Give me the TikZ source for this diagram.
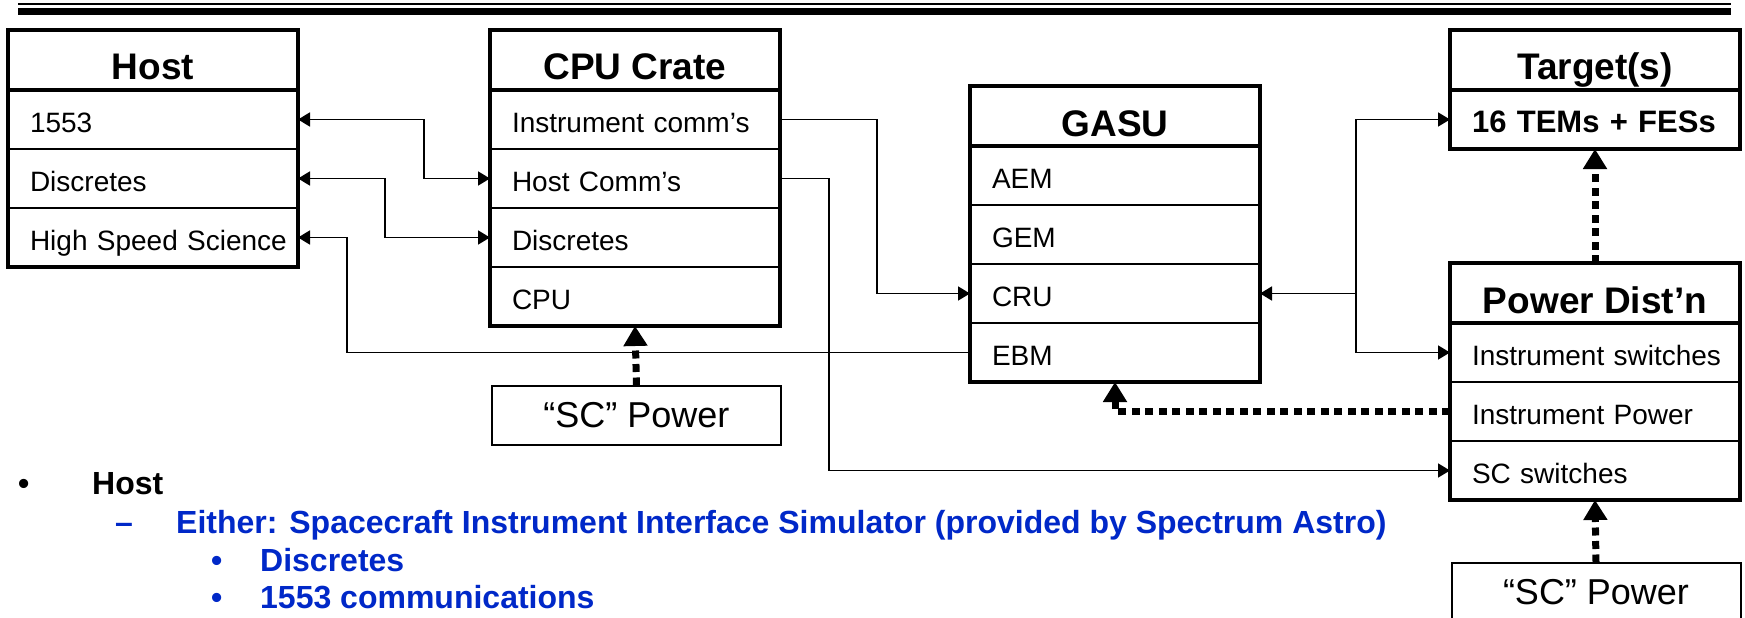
\documentclass[tikz,border=0pt]{standalone}
\usepackage{fontspec}
\setmainfont{Liberation Sans}
\usetikzlibrary{arrows.meta,positioning}
\definecolor{bultblue}{RGB}{0,40,200}

\tikzset{
  >={Triangle[length=12pt,width=14pt]},
  hd/.style={draw, line width=2pt, outer sep=0pt, minimum width=290pt, minimum height=60pt, inner sep=0pt,
    text height=40pt, text depth=0pt, font=\fontsize{37}{40}\selectfont\bfseries},
  rw/.style={draw, line width=2pt, outer sep=0pt, minimum height=59pt, text width=290pt, inner xsep=0pt,
    inner ysep=0pt, text height=26pt, text depth=0pt, execute at begin node={\hspace*{22pt}},
    font=\fontsize{28}{32}\selectfont},
  frame/.style={line width=4.5pt},
  tw/.style={line width=1.8pt, ->},
  pw/.style={line width=7pt, dash pattern=on 8pt off 5.5pt, -{Triangle[length=20pt,width=23pt]}},
  scbox/.style={draw, line width=2pt, outer sep=0pt, minimum width=289pt, minimum height=59pt, inner sep=0pt,
    font=\fontsize{36}{40}\selectfont},
  bl/.style={anchor=west, inner sep=0pt, text height=22pt, text depth=0pt, font=\fontsize{32}{34}\selectfont\bfseries}
}

\begin{document}
\begin{tikzpicture}[x=1pt,y=-1pt]
        \useasboundingbox (0,0) rectangle (1745,618);

         % Righe in alto
        \draw[line width=2pt] (18,4) -- (1731,4);
        \draw[line width=7pt] (18,11.5) -- (1731,11.5);

         % Host
        \node[hd, anchor=north west] (hosthd) at (8,30) {Host};
        \node[rw, below=0pt of hosthd] (host1553) {1553};
        \node[rw, below=0pt of host1553] (hostdisc) {Discretes};
        \node[rw, below=0pt of hostdisc] (hosthss) {High Speed Science};
        \draw[frame] (hosthd.north west) rectangle (hosthss.south east);
        \draw[frame] (hosthd.south west) -- (hosthd.south east);

         % CPU Crate
        \node[hd, anchor=north west] (cpuhd) at (490,30) {CPU Crate};
        \node[rw, below=0pt of cpuhd] (cpuinst) {Instrument comm’s};
        \node[rw, below=0pt of cpuinst] (cpuhost) {Host Comm’s};
        \node[rw, below=0pt of cpuhost] (cpudisc) {Discretes};
        \node[rw, below=0pt of cpudisc] (cpucpu) {CPU};
        \draw[frame] (cpuhd.north west) rectangle (cpucpu.south east);
        \draw[frame] (cpuhd.south west) -- (cpuhd.south east);

         % GASU
        \node[hd, anchor=north west] (gasuhd) at (970,86) {GASU};
        \node[rw, below=0pt of gasuhd] (gasuaem) {AEM};
        \node[rw, below=0pt of gasuaem] (gasugem) {GEM};
        \node[rw, below=0pt of gasugem] (gasucru) {CRU};
        \node[rw, below=0pt of gasucru] (gasuebm) {EBM};
        \draw[frame] (gasuhd.north west) rectangle (gasuebm.south east);
        \draw[frame] (gasuhd.south west) -- (gasuhd.south east);

         % Target(s)
        \node[hd, anchor=north west] (tgthd) at (1450,30) {Target(s)};
        \node[rw, below=0pt of tgthd, font=\fontsize{31}{34}\selectfont\bfseries] (tgttem) {16 TEMs + FESs};
        \draw[frame] (tgthd.north west) rectangle (tgttem.south east);
        \draw[frame] (tgthd.south west) -- (tgthd.south east);

         % Power Dist'n
        \node[hd, anchor=north west] (pwrhd) at (1450,263) {Power Dist’n};
        \node[rw, below=0pt of pwrhd] (pwrisw) {Instrument switches};
        \node[rw, below=0pt of pwrisw] (pwripw) {Instrument Power};
        \node[rw, below=0pt of pwripw] (pwrscs) {SC switches};
        \draw[frame] (pwrhd.north west) rectangle (pwrscs.south east);
        \draw[frame] (pwrhd.south west) -- (pwrhd.south east);

         % Alimentazioni "SC"
        \node[scbox] (scpwrA) at (636.5,415) {“SC” Power};
        \node[scbox] (scpwrB) at (1596,592) {“SC” Power};

         % Collegamenti
        \draw[tw, <->] (host1553.east) -- ([xshift=126pt]host1553.east) |- (cpuhost.west);
        \draw[tw, <->] (hostdisc.east) -- ([xshift=87pt]hostdisc.east) |- (cpudisc.west);
        \draw[tw] (gasuebm.west) -| ([xshift=49pt]hosthss.east) -- (hosthss.east);
        \draw[tw] (cpuinst.east) -- ([xshift=97pt]cpuinst.east) |- (gasucru.west);
        \draw[tw] (cpuhost.east) -- ([xshift=49pt]cpuhost.east) |- (pwrscs.west);
        \coordinate (jtgt) at ([xshift=-94pt]tgttem.west);
        \draw[tw, <->] (tgttem.west) -- (jtgt) |- (pwrisw.west);
        \draw[tw] (jtgt |- gasucru.east) -- (gasucru.east);

         % Linee di potenza
        \draw[pw] (pwrhd.north) -- (tgttem.south);
        \draw[pw] (scpwrA.north) -- (cpucpu.south);
        \draw[pw] (scpwrB.north) -- (pwrscs.south);
        \draw[pw] (pwripw.west) -| (gasuebm.south);

         % Elenco puntato
        \node[bl] (blhost) at (18,483) {•};
        \node[bl] (txhost) at (92,483) {Host};
        \node[bl, text=bultblue] (bleither) at (115,522) {–};
        \node[bl, text=bultblue] (txeither) at (176,522) {Either: Spacecraft Instrument Interface Simulator (provided by Spectrum Astro)};
        \node[bl, text=bultblue] (bldisc) at (211,560) {•};
        \node[bl, text=bultblue] (txdisc) at (260,560) {Discretes};
        \node[bl, text=bultblue] (blcomm) at (211,597) {•};
        \node[bl, text=bultblue] (txcomm) at (260,597) {1553 communications};
\end{tikzpicture}
\end{document}
